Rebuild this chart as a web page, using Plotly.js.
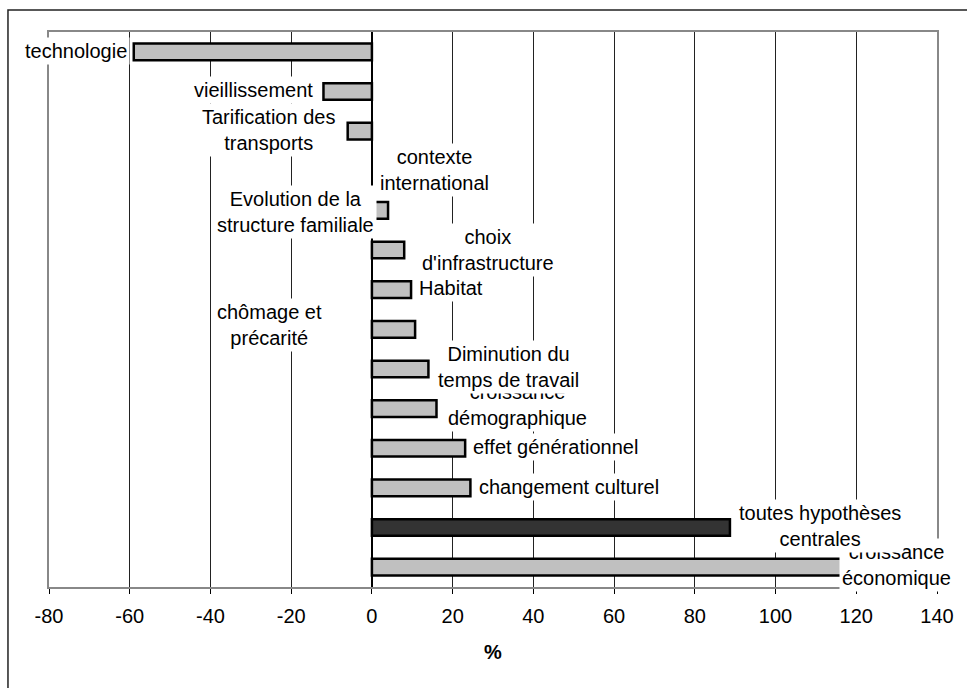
<!DOCTYPE html>
<html>
<head>
<meta charset="utf-8">
<script src="https://cdn.plot.ly/plotly-3.0.1.min.js"></script>
<style>html,body{margin:0;padding:0;background:#fff;}#chart{width:967px;height:688px;}</style>
</head>
<body>
<div id="chart"></div>
<script>
// Data (top to bottom)
const categories = [
  "technologie",
  "vieillissement",
  "Tarification des transports",
  "contexte international",
  "Evolution de la structure familiale",
  "choix d'infrastructure",
  "Habitat",
  "chômage et précarité",
  "Diminution du temps de travail",
  "croissance démographique",
  "effet générationnel",
  "changement culturel",
  "toutes hypothèses centrales",
  "croissance économique"
];
const values = [-59, -12, -6, 0, 4, 8, 9.7, 10.7, 14, 16, 23.1, 24.4, 88.7, 118];
const labelTexts = [
  "technologie",
  "vieillissement",
  "Tarification des<br>transports",
  "contexte<br>international",
  "Evolution de la<br>structure familiale",
  "choix<br>d'infrastructure",
  "Habitat",
  "chômage et<br>précarité",
  "Diminution du<br>temps de travail",
  "croissance<br>démographique",
  "effet générationnel",
  "changement culturel",
  "toutes hypothèses<br>centrales",
  "croissance<br>économique"
];
const highlight = "toutes hypothèses centrales";
const xTicks = [-80, -60, -40, -20, 0, 20, 40, 60, 80, 100, 120, 140];

// Label placement (styling): anchor, px offset from bar end, px offset from bar centre (down positive)
const labelPlace = [
  {a: "right", dx: -4, dy: -1},
  {a: "right", dx: -7, dy: -1.5},
  {a: "center", dx: -79, dy: -1},
  {a: "center", dx: 63, dy: -1},
  {a: "center", dx: -93, dy: 1.3},
  {a: "center", dx: 84, dy: 0.3},
  {a: "left", dx: 5, dy: -1.4},
  {a: "center", dx: -145.5, dy: -4.3},
  {a: "center", dx: 80, dy: -1.5},
  {a: "center", dx: 80.6, dy: -3.9},
  {a: "left", dx: 5, dy: -1},
  {a: "left", dx: 6, dy: -0.6},
  {a: "center", dx: 90.4, dy: -1.5},
  {a: "left", dx: -9, dy: -2.5}
];

const fills = categories.map(c => c === highlight ? "#333333" : "#c0c0c0");
const lineWidths = values.map(v => v === 0 ? 0 : 2.5);

const trace = {
  type: "bar",
  orientation: "h",
  x: values,
  y: categories,
  marker: {color: fills, line: {color: "#000", width: lineWidths}},
  width: 0.42,
  hoverinfo: "x+y",
  showlegend: false
};

// Annotations drawn bottom-to-top (later ones on top)
const annotations = [];
for (let i = categories.length - 1; i >= 0; i--) {
  const p = labelPlace[i];
  annotations.push({
    x: values[i], y: categories[i], xref: "x", yref: "y",
    text: labelTexts[i], showarrow: false,
    xanchor: p.a, yanchor: "middle",
    xshift: p.dx, yshift: -p.dy,
    align: "center",
    bgcolor: "#ffffff", borderpad: 2,
    font: {family: "Liberation Sans, Arial, sans-serif", size: 20, color: "#000"}
  });
}
annotations.push({
  x: 0.5, y: -0.118, xref: "paper", yref: "paper",
  text: "<b>%</b>", showarrow: false, xanchor: "center", yanchor: "middle",
  font: {family: "Liberation Sans, Arial, sans-serif", size: 20, color: "#000"}
});

const layout = {
  width: 967, height: 688,
  margin: {l: 49, r: 30, t: 32, b: 101, pad: 0},
  paper_bgcolor: "#fff", plot_bgcolor: "#fff",
  font: {family: "Liberation Sans, Arial, sans-serif", size: 20, color: "#000"},
  xaxis: {
    range: [-80, 140], tickvals: xTicks, ticktext: xTicks.map(String),
    showgrid: true, gridcolor: "#222", gridwidth: 1,
    zeroline: true, zerolinecolor: "#000", zerolinewidth: 1.2,
    showline: true, linecolor: "#888", linewidth: 2, mirror: true,
    ticks: "outside", ticklen: 5, tickcolor: "#000", tickwidth: 1,
    ticklabelstandoff: 5,
    tickfont: {size: 20}, fixedrange: true
  },
  yaxis: {
    categoryorder: "array", categoryarray: categories,
    range: [categories.length - 0.5, -0.5], autorange: false,
    showticklabels: false, showgrid: false,
    showline: true, linecolor: "#888", linewidth: 2, mirror: true,
    ticks: "", zeroline: false, fixedrange: true
  },
  bargap: 0.58,
  annotations: annotations,
  shapes: [{
    type: "rect", xref: "paper", yref: "paper",
    x0: -0.0462, x1: 1.05, y0: -0.2, y1: 1.0396,
    line: {color: "#222", width: 1.5}, fillcolor: "rgba(0,0,0,0)", layer: "below"
  }]
};

Plotly.newPlot("chart", [trace], layout, {displayModeBar: false, staticPlot: true});
</script>
</body>
</html>
